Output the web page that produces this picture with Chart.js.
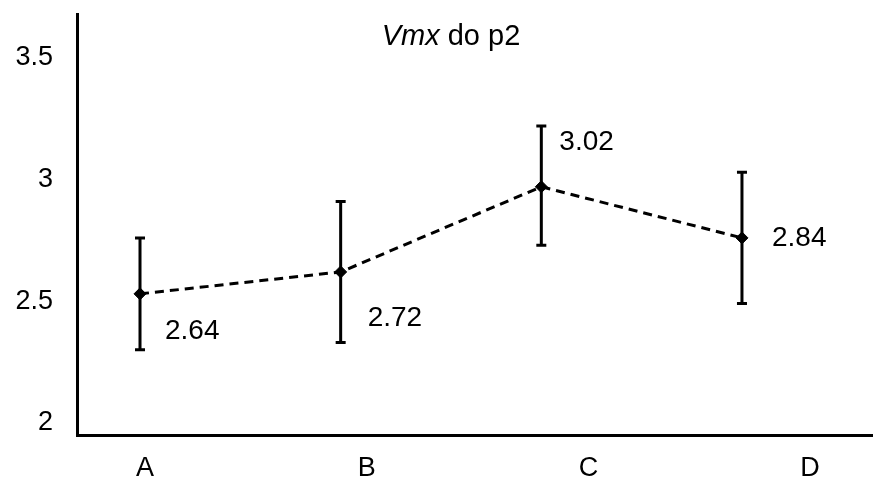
<!DOCTYPE html>
<html>
<head>
<meta charset="utf-8">
<script src="https://cdn.jsdelivr.net/npm/chart.js@4"></script>
<style>
  html, body { margin: 0; padding: 0; background: #fff; }
  #wrap { width: 873px; height: 483px; }
</style>
</head>
<body>
<div id="wrap"><canvas id="chart"></canvas></div>
<script>
const categories = ["A", "B", "C", "D"];
const means = [2.53, 2.62, 2.97, 2.76];
const errLow = [2.30, 2.33, 2.73, 2.49];
const errHigh = [2.76, 2.91, 3.22, 3.03];
const valueLabels = ["2.64", "2.72", "3.02", "2.84"];
const yTicks = [2, 2.5, 3, 3.5];

const FONT = "'Liberation Sans', Arial, sans-serif";
// label offset from each point, in px
const labelOffsets = [[25, 37], [27, 46], [18, -44], [30, 0]];

function noPad(s) {
  s.paddingTop = 0; s.paddingBottom = 0;
  s.paddingLeft = 0; s.paddingRight = 0;
}

const errorBars = {
  id: "errorBars",
  beforeDatasetsDraw(chart) {
    const ctx = chart.ctx;
    const xs = chart.scales.x, ys = chart.scales.y;
    ctx.save();
    ctx.strokeStyle = "#000";
    ctx.lineWidth = 3;
    means.forEach((m, i) => {
      const x = xs.getPixelForValue(i);
      const top = ys.getPixelForValue(errHigh[i]);
      const bot = ys.getPixelForValue(errLow[i]);
      ctx.beginPath();
      ctx.moveTo(x, top); ctx.lineTo(x, bot);
      ctx.moveTo(x - 5, top); ctx.lineTo(x + 5, top);
      ctx.moveTo(x - 5, bot); ctx.lineTo(x + 5, bot);
      ctx.stroke();
    });
    ctx.restore();
  }
};

const textBits = {
  id: "textBits",
  afterDraw(chart) {
    const ctx = chart.ctx;
    const xs = chart.scales.x, ys = chart.scales.y;
    ctx.save();
    ctx.fillStyle = "#000";
    ctx.textBaseline = "middle";
    ctx.textAlign = "left";
    ctx.font = "28px " + FONT;
    means.forEach((m, i) => {
      const x = xs.getPixelForValue(i) + labelOffsets[i][0];
      const y = ys.getPixelForValue(m) + labelOffsets[i][1];
      ctx.fillText(valueLabels[i], x, y);
    });
    // title, "Vmx" in italic
    const a = "Vmx", b = " do p2";
    ctx.font = "italic 29px " + FONT;
    const wa = ctx.measureText(a).width;
    ctx.font = "29px " + FONT;
    const wb = ctx.measureText(b).width;
    const x0 = 451 - (wa + wb) / 2;
    ctx.font = "italic 29px " + FONT;
    ctx.fillText(a, x0, 37);
    ctx.font = "29px " + FONT;
    ctx.fillText(b, x0 + wa, 37);
    ctx.restore();
  }
};

new Chart(document.getElementById("chart"), {
  type: "line",
  data: {
    datasets: [{
      data: means.map((v, i) => ({ x: i, y: v })),
      borderColor: "#000",
      borderWidth: 3,
      borderDash: [9, 6],
      tension: 0,
      pointStyle: "rectRot",
      pointRadius: 6,
      pointBackgroundColor: "#000",
      pointBorderColor: "#000",
      pointBorderWidth: 1
    }]
  },
  options: {
    responsive: true,
    maintainAspectRatio: false,
    animation: false,
    layout: { autoPadding: false, padding: { top: 14, right: 0, left: 0, bottom: 0 } },
    plugins: { legend: { display: false }, tooltip: { enabled: false } },
    scales: {
      x: { type: "linear", min: -0.314, max: 3.653, display: false },
      x2: {
        type: "linear",
        position: "bottom",
        min: -0.307,
        max: 3.284,
        afterBuildTicks: s => { s.ticks = categories.map((c, i) => ({ value: i })); },
        afterFit: s => { s.height = 48; noPad(s); },
        ticks: {
          color: "#000",
          font: { family: FONT, size: 27 },
          padding: 17,
          callback: v => categories[v]
        },
        grid: { display: false, drawTicks: false },
        border: { display: true, color: "#000", width: 3 }
      },
      y: {
        min: 1.95,
        max: 3.68,
        afterBuildTicks: s => { s.ticks = yTicks.map(v => ({ value: v })); },
        afterFit: s => { s.width = 77; noPad(s); },
        ticks: {
          color: "#000",
          font: { family: FONT, size: 27 },
          padding: 24,
          callback: v => String(v)
        },
        grid: { display: false, drawTicks: false },
        border: { display: true, color: "#000", width: 3 }
      }
    }
  },
  plugins: [errorBars, textBits]
});
</script>
</body>
</html>
